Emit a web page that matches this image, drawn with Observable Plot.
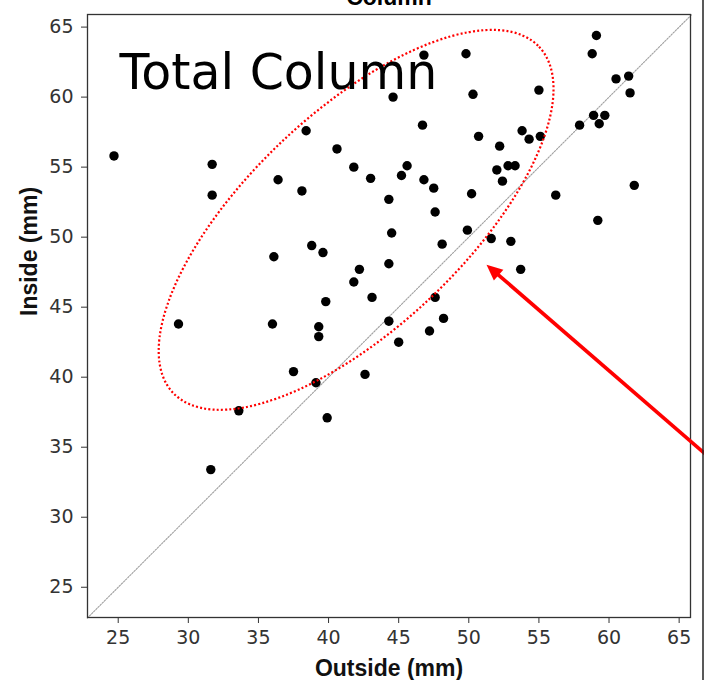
<!DOCTYPE html>
<html>
<head>
<meta charset="utf-8">
<script src="https://cdn.jsdelivr.net/npm/d3@7"></script>
<script src="https://cdn.jsdelivr.net/npm/@observablehq/plot@0.6"></script>
<style>
  html, body { margin: 0; padding: 0; background: white; }
  #chart { width: 704px; height: 680px; overflow: hidden; }
</style>
</head>
<body>
<div id="chart"></div>
<script>
// ---- data ----
const outside = [24.7, 31.7, 31.7, 38.4, 40.6, 36.4, 38.1, 38.8, 39.6, 36.1, 39.8, 29.3, 36.0, 39.3, 39.3, 41.8,
  59.1, 58.8, 49.8, 46.8, 60.5, 61.4, 61.5, 44.6, 50.3, 55.0, 58.9, 59.7, 59.3, 57.9, 46.7, 50.7,
  53.8, 54.3, 55.1, 52.2, 52.8, 53.3, 52.0, 52.4, 43.0, 45.6, 45.2, 46.8, 47.5, 44.3, 50.2, 56.2,
  61.8, 47.6, 59.2, 44.5, 49.9, 48.1, 51.6, 53.0, 44.3, 42.2, 41.8, 53.7, 43.1, 47.6, 44.3, 48.2,
  47.2, 45.0, 42.6, 37.5, 39.1, 33.6, 39.9, 31.6];
const inside = [55.8, 55.2, 53.0, 57.6, 56.3, 54.1, 53.3, 49.4, 48.9, 48.6, 45.4, 43.8, 43.8, 43.6, 42.9, 55.0,
  64.4, 63.1, 63.1, 63.0, 61.3, 61.5, 60.3, 60.0, 60.2, 60.5, 58.7, 58.7, 58.1, 58.0, 58.0, 57.2,
  57.6, 57.0, 57.2, 56.5, 55.1, 55.1, 54.8, 54.0, 54.2, 55.1, 54.4, 54.1, 53.5, 52.7, 53.1, 53.0,
  53.7, 51.8, 51.2, 50.3, 50.5, 49.5, 49.9, 49.7, 48.1, 47.7, 46.8, 47.7, 45.7, 45.7, 44.0, 44.2,
  43.3, 42.5, 40.2, 40.4, 39.6, 37.6, 37.1, 33.4];
const xTicks = [25, 30, 35, 40, 45, 50, 55, 60, 65];
const yTicks = [25, 30, 35, 40, 45, 50, 55, 60, 65];
const xDomain = [22.81, 65.81];
const yDomain = [22.84, 65.9];
const diagonal = [22.8, 65.9];           // y = x reference line
const ellipseCenter = [42.0, 51.2];      // outside, inside
const ellipseAxes = [17.96, 7.7];        // semi-major, semi-minor (data units)
const ellipseAngle = 43.4;               // degrees
const arrowTip = [51.3, 48.0];
const arrowTail = [70.8, 31.1];
const titleText = "Column";
const panelText = "Total Column";
const panelTextPos = [25.1, 60.6];
const xLabel = "Outside (mm)";
const yLabel = "Inside (mm)";

const points = outside.map((x, i) => ({x, y: inside[i]}));
const diagData = diagonal.map(v => ({x: v, y: v}));

// ---- custom annotation renderers ----
const ellipseMark = (index, scales, values, dims) => {
  const g = d3.create("svg:g");
  const cx = scales.x(ellipseCenter[0]), cy = scales.y(ellipseCenter[1]);
  const rx = Math.abs(scales.x(ellipseCenter[0] + ellipseAxes[0]) - cx);
  const ry = Math.abs(scales.y(ellipseCenter[1] + ellipseAxes[1]) - cy);
  g.append("ellipse")
    .attr("cx", cx).attr("cy", cy).attr("rx", rx).attr("ry", ry)
    .attr("transform", `rotate(${-ellipseAngle},${cx},${cy})`)
    .attr("fill", "none").attr("stroke", "#ff0000")
    .attr("stroke-width", 2.2).attr("stroke-dasharray", "2,2.2");
  return g.node();
};

const arrowMark = (index, scales, values, dims) => {
  const g = d3.create("svg:g");
  const tx = scales.x(arrowTip[0]), ty = scales.y(arrowTip[1]);
  const sx = scales.x(arrowTail[0]), sy = scales.y(arrowTail[1]);
  const len = Math.hypot(tx - sx, ty - sy);
  const ux = (tx - sx) / len, uy = (ty - sy) / len;
  const headL = 16, headW = 14.5;
  const bx = tx - ux * headL, by = ty - uy * headL;
  g.append("line").attr("x1", sx).attr("y1", sy).attr("x2", bx + ux * 2).attr("y2", by + uy * 2)
    .attr("stroke", "#ff0000").attr("stroke-width", 3.6);
  const px = -uy, py = ux;
  g.append("polygon")
    .attr("points", [[tx, ty], [bx + px * headW / 2, by + py * headW / 2], [bx - px * headW / 2, by - py * headW / 2]].map(p => p.join(",")).join(" "))
    .attr("fill", "#ff0000");
  // neighbouring panel edge at the right border of the picture
  g.append("line").attr("x1", dims.width - 1).attr("x2", dims.width - 1)
    .attr("y1", 0).attr("y2", dims.height).attr("stroke", "#222").attr("stroke-width", 1.5);
  return g.node();
};

const chart = Plot.plot({
  width: 704,
  height: 680,
  marginLeft: 87,
  marginRight: 14,
  marginTop: 14,
  marginBottom: 63,
  style: {fontFamily: "DejaVu Sans", fontSize: "19px", color: "#333", background: "white"},
  x: {domain: xDomain, label: null},
  y: {domain: yDomain, label: null},
  marks: [
    Plot.line(diagData, {x: "x", y: "y", stroke: "#a0a0a0", strokeWidth: 1.1, strokeDasharray: "1.6,1.4"}),
    Plot.dot(points, {x: "x", y: "y", r: 4.7, fill: "black", stroke: "none"}),
    ellipseMark,
    Plot.text([panelText], {x: () => panelTextPos[0], y: () => panelTextPos[1], text: d => d,
      fontSize: 49, fontFamily: "DejaVu Sans", fill: "black", textAnchor: "start", lineAnchor: "bottom"}),
    Plot.frame({stroke: "#333", strokeWidth: 1.3}),
    Plot.axisX({ticks: xTicks, tickSize: 6, tickPadding: 7, label: null, stroke: "#333", fill: "#333"}),
    Plot.axisY({ticks: yTicks, tickSize: 6, tickPadding: 8, label: null, stroke: "#333", fill: "#333"}),
    Plot.text([titleText], {frameAnchor: "top", dy: -10, text: d => d, lineAnchor: "bottom",
      fontSize: 23, fontWeight: "bold", fontFamily: "Liberation Sans", fill: "black"}),
    Plot.text([xLabel], {frameAnchor: "bottom", dy: 58, text: d => d, lineAnchor: "bottom",
      fontSize: 23, fontWeight: "bold", fontFamily: "Liberation Sans", fill: "#111"}),
    Plot.text([yLabel], {frameAnchor: "left", dx: -51, rotate: -90, text: d => d, lineAnchor: "bottom",
      fontSize: 23, fontWeight: "bold", fontFamily: "Liberation Sans", fill: "#111"}),
    arrowMark
  ]
});
document.getElementById("chart").appendChild(chart);
</script>
</body>
</html>
